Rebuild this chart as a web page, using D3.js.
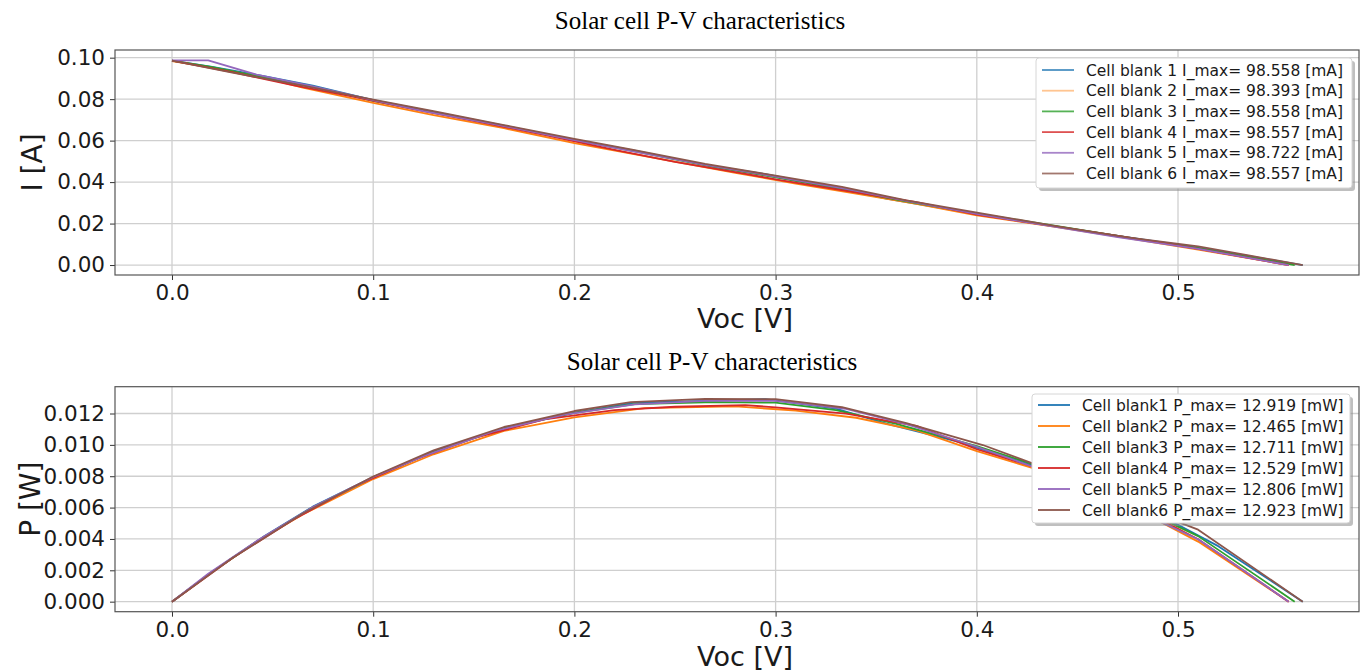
<!DOCTYPE html>
<html>
<head>
<meta charset="utf-8">
<title>Solar cell P-V characteristics</title>
<script src="https://cdn.jsdelivr.net/npm/d3@7"></script>
<style>
  body { margin: 0; background: #fff; }
  svg { display: block; }
</style>
</head>
<body>
<div id="main-container"></div>
<script>
// data
var v1 = [0, 0.02, 0.045, 0.07, 0.1, 0.13, 0.165, 0.2, 0.23, 0.265, 0.295, 0.33, 0.355, 0.39, 0.425, 0.46, 0.5, 0.52, 0.562];
var i1 = [0.0986, 0.0955, 0.0912, 0.0865, 0.0795, 0.0738, 0.0672, 0.0603, 0.0552, 0.0483, 0.0438, 0.0373, 0.0320, 0.0262, 0.0207, 0.0155, 0.0098, 0.0068, 0];
var p1 = [0, 0.0019, 0.0041, 0.00606, 0.00795, 0.00959, 0.01109, 0.01206, 0.0127, 0.0128, 0.01292, 0.01231, 0.01136, 0.01022, 0.0088, 0.00713, 0.0049, 0.00354, 0];

var v2 = [0, 0.02, 0.045, 0.065, 0.1, 0.13, 0.165, 0.2, 0.235, 0.28, 0.31, 0.34, 0.37, 0.4, 0.44, 0.475, 0.51, 0.555];
var i2 = [0.0984, 0.0952, 0.0905, 0.0855, 0.0782, 0.0723, 0.0660, 0.0588, 0.0525, 0.0445, 0.0393, 0.0345, 0.0295, 0.0240, 0.0183, 0.0130, 0.0075, 0];
var p2 = [0, 0.0019, 0.00407, 0.00556, 0.00782, 0.0094, 0.01089, 0.01176, 0.01234, 0.01246, 0.01218, 0.01173, 0.01092, 0.0096, 0.00805, 0.00618, 0.00383, 0];

var v3 = [0, 0.02, 0.042, 0.07, 0.1, 0.13, 0.165, 0.2, 0.23, 0.27, 0.3, 0.33, 0.36, 0.4, 0.44, 0.48, 0.51, 0.558];
var i3 = [0.0986, 0.0954, 0.0912, 0.0860, 0.0792, 0.0735, 0.0670, 0.0602, 0.0548, 0.0471, 0.0423, 0.0370, 0.0315, 0.0248, 0.0188, 0.0125, 0.0082, 0];
var p3 = [0, 0.00191, 0.00383, 0.00602, 0.00792, 0.00956, 0.01106, 0.01204, 0.0126, 0.01272, 0.01269, 0.01221, 0.01134, 0.00992, 0.00827, 0.006, 0.00418, 0];

var v4 = [0, 0.03, 0.06, 0.09, 0.12, 0.15, 0.185, 0.22, 0.25, 0.285, 0.3, 0.335, 0.37, 0.4, 0.44, 0.475, 0.51, 0.555];
var i4 = [0.0986, 0.0930, 0.0868, 0.0812, 0.0752, 0.0695, 0.0628, 0.0555, 0.0497, 0.0440, 0.0413, 0.0358, 0.0303, 0.0243, 0.0185, 0.0133, 0.0078, 0];
var p4 = [0, 0.00279, 0.00521, 0.00731, 0.00902, 0.01043, 0.01162, 0.01221, 0.01243, 0.01254, 0.01239, 0.01199, 0.01121, 0.00972, 0.00814, 0.00632, 0.00398, 0];

var v5 = [0, 0.018, 0.042, 0.07, 0.1, 0.125, 0.16, 0.195, 0.23, 0.265, 0.3, 0.335, 0.365, 0.4, 0.43, 0.47, 0.51, 0.555];
var i5 = [0.0987, 0.0987, 0.0918, 0.0862, 0.0795, 0.0742, 0.0680, 0.0612, 0.0547, 0.0483, 0.0427, 0.0367, 0.0310, 0.0247, 0.0198, 0.0135, 0.0078, 0];
var p5 = [0, 0.00178, 0.00386, 0.00603, 0.00795, 0.00928, 0.01088, 0.01193, 0.01258, 0.0128, 0.01281, 0.01229, 0.01132, 0.00988, 0.00851, 0.00635, 0.00398, 0];

var v6 = [0, 0.03, 0.065, 0.1, 0.13, 0.165, 0.2, 0.228, 0.265, 0.3, 0.333, 0.365, 0.403, 0.44, 0.475, 0.51, 0.562];
var i6 = [0.0986, 0.0928, 0.0865, 0.0798, 0.0742, 0.0675, 0.0608, 0.0558, 0.0488, 0.0431, 0.0377, 0.0312, 0.0248, 0.0187, 0.0133, 0.0090, 0];
var p6 = [0, 0.00278, 0.00562, 0.00798, 0.00965, 0.01114, 0.01216, 0.01272, 0.01293, 0.01292, 0.01240, 0.01139, 0.00999, 0.00823, 0.00632, 0.00459, 0];

var iLabels = ['Cell blank 1 I_max= 98.558 [mA]', 'Cell blank 2 I_max= 98.393 [mA]', 'Cell blank 3 I_max= 98.558 [mA]',
               'Cell blank 4 I_max= 98.557 [mA]', 'Cell blank 5 I_max= 98.722 [mA]', 'Cell blank 6 I_max= 98.557 [mA]'];
var pLabels = ['Cell blank1 P_max= 12.919 [mW]', 'Cell blank2 P_max= 12.465 [mW]', 'Cell blank3 P_max= 12.711 [mW]',
               'Cell blank4 P_max= 12.529 [mW]', 'Cell blank5 P_max= 12.806 [mW]', 'Cell blank6 P_max= 12.923 [mW]'];
var colors = ['#1f77b4', '#ff7f0e', '#2ca02c', '#d62728', '#9467bd', '#8c564b'];
var xTicks = [0.0, 0.1, 0.2, 0.3, 0.4, 0.5];
var iTicks = [0.00, 0.02, 0.04, 0.06, 0.08, 0.10];
var pTicks = [0.000, 0.002, 0.004, 0.006, 0.008, 0.010, 0.012];

var voltages = [v1, v2, v3, v4, v5, v6];
var currents = [i1, i2, i3, i4, i5, i6];
var powers = [p1, p2, p3, p4, p5, p6];

var W = 1364, H = 672;
var svg = d3.select('#main-container').append('svg')
  .attr('width', W).attr('height', H);

function zip(xs, ys) {
  return xs.map(function(x, k) { return [x, ys[k]]; });
}

function drawPanel(opt) {
  var x = d3.scaleLinear().domain([-0.02833, 0.58996]).range([opt.left, opt.right]);
  var y = d3.scaleLinear().domain(opt.yDomain).range([opt.bottom, opt.top]);
  var g = svg.append('g');

  svg.append('text')
    .attr('x', opt.titleX).attr('y', opt.titleY)
    .attr('text-anchor', 'middle')
    .attr('font-family', 'Liberation Serif, Times New Roman, serif')
    .attr('font-size', '25px')
    .attr('fill', '#000')
    .text('Solar cell P-V characteristics');

  // grid
  g.selectAll('.vgrid').data(xTicks).enter().append('line')
    .attr('x1', function(d) { return x(d); }).attr('x2', function(d) { return x(d); })
    .attr('y1', opt.top).attr('y2', opt.bottom)
    .attr('stroke', '#cfcfcf').attr('stroke-width', 1.3);
  g.selectAll('.hgrid').data(opt.yTicks).enter().append('line')
    .attr('x1', opt.left).attr('x2', opt.right)
    .attr('y1', function(d) { return y(d); }).attr('y2', function(d) { return y(d); })
    .attr('stroke', '#cfcfcf').attr('stroke-width', 1.3);

  var line = d3.line().x(function(d) { return x(d[0]); }).y(function(d) { return y(d[1]); });
  for (var k = 0; k < 6; k++) {
    g.append('path')
      .datum(zip(voltages[k], opt.values[k]))
      .attr('d', line)
      .attr('fill', 'none')
      .attr('stroke', colors[k])
      .attr('stroke-width', 1.8)
      .attr('stroke-linejoin', 'round');
  }

  var xAxis = g.append('g').attr('transform', 'translate(0,' + opt.bottom + ')')
    .call(d3.axisBottom(x).tickValues(xTicks).tickFormat(d3.format('.1f')).tickSizeOuter(0).tickSize(5).tickPadding(5));
  var yAxis = g.append('g').attr('transform', 'translate(' + opt.left + ',0)')
    .call(d3.axisLeft(y).tickValues(opt.yTicks).tickFormat(d3.format(opt.yFormat)).tickSizeOuter(0).tickSize(5).tickPadding(5));
  [xAxis, yAxis].forEach(function(a) {
    a.select('.domain').remove();
    a.selectAll('line').attr('stroke', '#333').attr('stroke-width', 1);
    a.selectAll('text').attr('font-family', 'DejaVu Sans, sans-serif').attr('font-size', '21.5px').attr('fill', '#1a1a1a');
  });

  g.append('rect')
    .attr('x', opt.left).attr('y', opt.top)
    .attr('width', opt.right - opt.left).attr('height', opt.bottom - opt.top)
    .attr('fill', 'none').attr('stroke', '#555').attr('stroke-width', 1.2);

  svg.append('text')
    .attr('x', (x(0) + x(0.5)) / 2 + 70).attr('y', opt.xLabelY)
    .attr('text-anchor', 'middle')
    .attr('font-family', 'DejaVu Sans, sans-serif')
    .attr('font-size', '27px').attr('fill', '#1a1a1a')
    .text('Voc [V]');
  svg.append('text')
    .attr('transform', 'translate(' + opt.yLabelX + ',' + ((opt.top + opt.bottom) / 2) + ') rotate(-90)')
    .attr('text-anchor', 'middle')
    .attr('font-family', 'DejaVu Sans, sans-serif')
    .attr('font-size', '28px').attr('fill', '#1a1a1a')
    .text(opt.yLabel);

  // legend
  var lg = svg.append('g');
  lg.append('rect')
    .attr('x', opt.legX + 3).attr('y', opt.legY + 3)
    .attr('width', opt.legW).attr('height', opt.legH).attr('rx', 3)
    .attr('fill', '#8a8a8a').attr('opacity', 0.55);
  lg.append('rect')
    .attr('x', opt.legX).attr('y', opt.legY)
    .attr('width', opt.legW).attr('height', opt.legH).attr('rx', 3)
    .attr('fill', '#fff').attr('stroke', '#d6d6d6').attr('stroke-width', 1);
  opt.labels.forEach(function(lab, k) {
    var ly = opt.legY + opt.rowStart + k * opt.rowGap;
    lg.append('line')
      .attr('x1', opt.legX + 6).attr('x2', opt.legX + 38)
      .attr('y1', ly).attr('y2', ly)
      .attr('stroke', colors[k]).attr('stroke-width', 1.8)
      .attr('opacity', opt.swatchOpacity[k]);
    lg.append('text')
      .attr('x', opt.legX + 50).attr('y', ly)
      .attr('dy', '0.36em')
      .attr('font-family', 'DejaVu Sans, sans-serif')
      .attr('font-size', '15.5px').attr('fill', '#1a1a1a')
      .text(lab);
  });
}

drawPanel({
  left: 115, right: 1359, top: 50, bottom: 275,
  yDomain: [-0.0048, 0.1037], yTicks: iTicks, yFormat: '.2f',
  values: currents, labels: iLabels, yLabel: 'I [A]',
  titleX: 700, titleY: 29, xLabelY: 328, yLabelX: 42,
  legX: 1036, legY: 58, legW: 316, legH: 130, rowStart: 12, rowGap: 20.7,
  swatchOpacity: [0.8, 0.45, 0.8, 0.8, 0.8, 0.8]
});

drawPanel({
  left: 115, right: 1359, top: 386.7, bottom: 611.7,
  yDomain: [-0.00064, 0.01371], yTicks: pTicks, yFormat: '.3f',
  values: powers, labels: pLabels, yLabel: 'P [W]',
  titleX: 712, titleY: 370, xLabelY: 666, yLabelX: 40,
  legX: 1032, legY: 394, legW: 318, legH: 129, rowStart: 11, rowGap: 21,
  swatchOpacity: [1, 1, 1, 1, 1, 1]
});
</script>
</body>
</html>
